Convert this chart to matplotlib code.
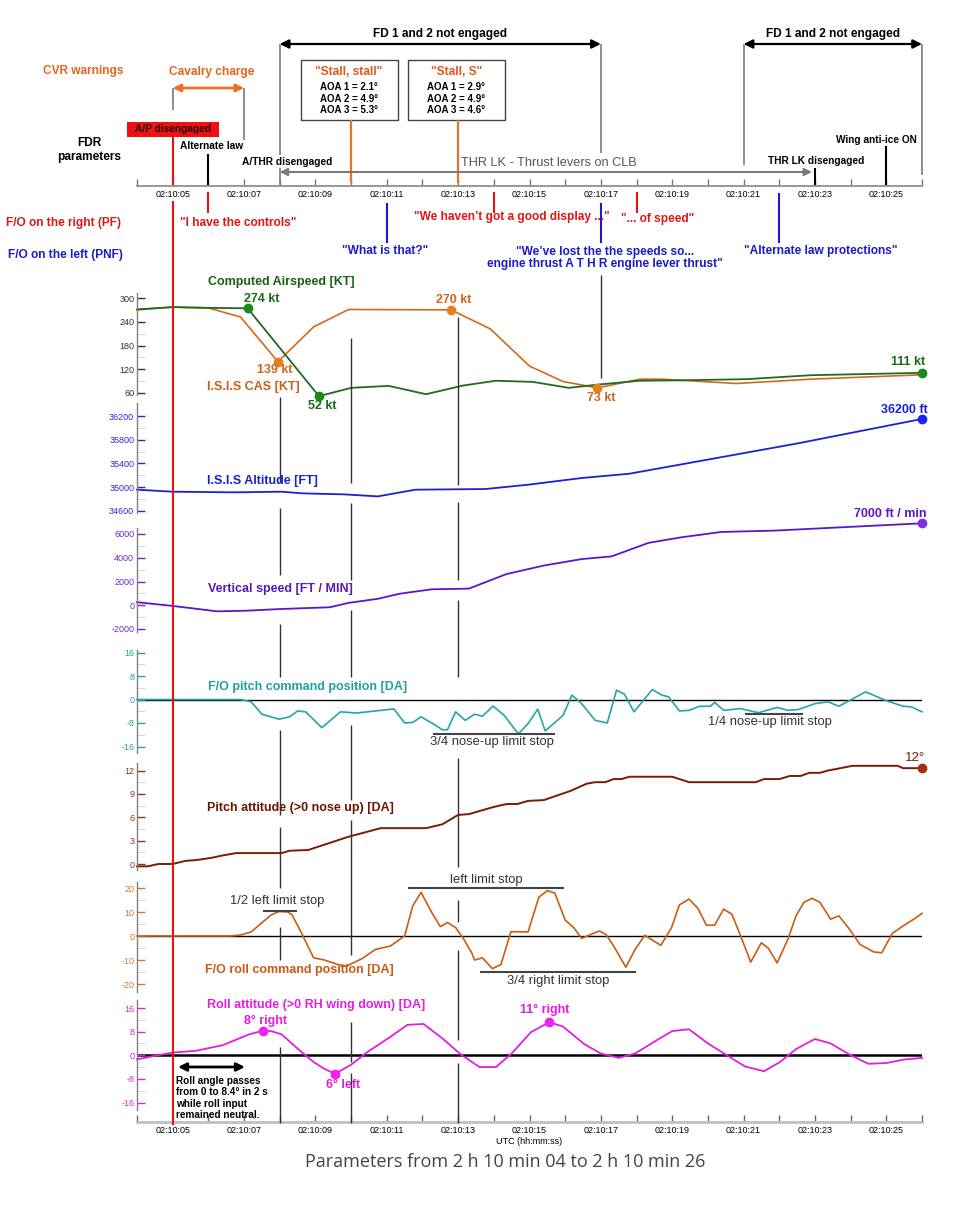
import numpy as np
import matplotlib
matplotlib.use("Agg")
import matplotlib.pyplot as plt
from matplotlib.patches import Rectangle

plt.rcParams['font.family'] = ['Liberation Sans', 'DejaVu Sans']

# ---------------- data ----------------
time_ticks = list(range(4, 27))
time_labels = ['02:10:%02d' % s if s % 2 == 1 else '' for s in time_ticks]

cas_t = np.array([4, 5, 6, 7.1, 9.1, 10, 11.05, 12.1, 13.15, 14.06, 15.1, 16.1, 17, 18.1, 19.2, 21.1, 22.9, 26])
cas_v = np.array([271, 277, 275, 274, 52, 73, 78, 57, 79, 91, 88, 73, 82, 91, 92, 95, 105, 111])
cas_dots = [3, 4, 17]

isis_t = np.array([4, 5, 6, 6.9, 7.95, 8.95, 9.93, 12.8, 13.9, 15, 15.94, 16.9, 18.1, 18.7, 20.8, 22.9, 26])
isis_v = np.array([271, 277, 275, 252, 139, 227, 271, 270, 222, 128, 89, 73, 95, 95, 84, 95, 106])
isis_dots = [4, 7, 11]

alt_t = np.array([4, 5, 6.7, 8.05, 8.65, 9.8, 10.75, 11.8, 13.76, 14.96, 16.46, 17.8, 19.47, 22.47, 26])
alt_v = np.array([34955, 34921, 34910, 34921, 34893, 34876, 34842, 34955, 34966, 35039, 35152, 35225, 35406, 35732, 36150])

vs_t = np.array([4, 5, 6.25, 7.08, 8.05, 9.4, 9.93, 10.75, 11.36, 12.26, 13.3, 14.36, 15.4, 16.46, 17.3, 18.34, 19.24, 20.37, 21.87, 26])
vs_v = np.array([257, -57, -514, -457, -314, -171, 200, 543, 971, 1343, 1400, 2630, 3343, 3886, 4114, 5257, 5714, 6171, 6286, 6900])

pcmd_t = np.array([4, 6.9, 7.2, 7.5, 7.98, 8.28, 8.5, 8.73, 9.18, 9.7, 10.16, 11.2, 11.5, 11.73, 11.96, 12.26,
                   12.56, 12.7, 12.93, 13.2, 13.46, 13.68, 13.98, 14.29, 14.69, 14.96, 15.23, 15.44, 15.94,
                   16.19, 16.46, 16.84, 17.18, 17.44, 17.66, 17.93, 18.44, 18.71, 18.9, 19.2, 19.47, 19.77,
                   20.07, 20.19, 20.44, 20.9, 21.42, 21.94, 22.24, 22.54, 23.0, 23.37, 23.67, 24.42, 25.02,
                   25.47, 25.7, 26])
pcmd_v = np.array([0, 0, -0.8, -5, -6.7, -5.9, -3.9, -4.2, -9.6, -4.2, -4.6, -3.2, -8, -7.8, -5.9, -8,
                   -10.3, -10.3, -4.2, -7.1, -5, -5.7, -2.2, -5.4, -11.7, -8.2, -3.3, -10.7, -5.4,
                   1.5, -1.4, -7.1, -8, 3.2, 1.8, -4.2, 3.4, 1.5, 0.9, -3.9, -3.7, -2.3,
                   -2.3, -1.0, -3.7, -3.1, -4.5, -2.7, -3.7, -3.4, -1.4, -0.8, -2.3, 2.6, -0.5,
                   -2.3, -2.5, -4.2])

patt_t = np.array([4, 4.3, 4.6, 5, 5.35, 5.65, 6.1, 6.4, 6.78, 8.05, 8.28, 8.8, 9.93, 10.83, 12.1, 12.56,
                   13.0, 13.3, 13.98, 14.36, 14.66, 14.96, 15.4, 16.16, 16.6, 16.84, 17.12, 17.36, 17.58,
                   17.8, 19.0, 19.47, 21.34, 21.57, 22.0, 22.3, 22.6, 22.84, 23.14, 23.37, 23.6, 24.05,
                   25.32, 25.47, 26])
patt_v = np.array([-0.3, -0.3, 0, 0, 0.4, 0.5, 0.8, 1.1, 1.4, 1.4, 1.7, 1.8, 3.5, 4.6, 4.6, 5.1,
                   6.3, 6.4, 7.3, 7.7, 7.7, 8.1, 8.2, 9.4, 10.3, 10.5, 10.5, 10.9, 10.9,
                   11.2, 11.2, 10.5, 10.5, 10.9, 10.9, 11.3, 11.3, 11.7, 11.7, 12.0, 12.2, 12.6,
                   12.6, 12.3, 12.3])

rcmd_t = np.array([4, 6.6, 6.9, 7.2, 7.45, 7.75, 7.98, 8.23, 8.35, 8.58, 8.95, 9.25, 9.63, 9.86, 10.3,
                   10.68, 11.1, 11.5, 11.73, 11.96, 12.26, 12.5, 12.7, 12.93, 13.16, 13.38, 13.46, 13.68,
                   13.96, 14.2, 14.48, 14.96, 15.26, 15.5, 15.71, 16.0, 16.24, 16.46, 16.95, 17.14, 17.36,
                   17.7, 17.96, 18.23, 18.68, 18.98, 19.2, 19.47, 19.72, 19.96, 20.19, 20.44, 20.67, 20.9,
                   21.2, 21.5, 21.7, 21.94, 22.24, 22.47, 22.69, 22.92, 23.14, 23.44, 23.67, 23.97, 24.26,
                   24.64, 24.87, 25.17, 25.47, 25.77, 26])
rcmd_v = np.array([0, 0, 0.4, 1.7, 4.9, 8.7, 10.2, 10.0, 8.7, 2.1, -9.1, -10.0, -11.9, -12.6, -9.5,
                   -5.6, -4.2, 0, 12.6, 18.2, 9.8, 3.9, 5.6, 3.5, -1.4, -7.0, -10.0, -9.1,
                   -13.6, -11.9, 1.8, 1.7, 16.1, 18.9, 17.9, 6.6, 3.5, -1.0, 2.1, 0.7, -4.2,
                   -13.0, -5.6, 0.3, -3.9, 3.5, 12.9, 15.4, 11.5, 4.5, 4.5, 11.2, 9.1, 0.7,
                   -10.9, -2.8, -5.2, -11.2, -1.4, 8.4, 14.0, 15.7, 14.0, 7.0, 8.4, 2.8, -3.5,
                   -6.6, -7.0, 1.1, 4.2, 7.0, 9.4])

ratt_t = np.array([4, 4.45, 5, 5.65, 6.4, 7.15, 7.53, 7.75, 8.05, 8.58, 8.95, 9.25, 9.55, 10.0, 10.46,
                   11.06, 11.58, 12.03, 12.56, 13.08, 13.6, 14.06, 14.5, 15.04, 15.56, 15.94, 16.54,
                   17.0, 17.5, 17.96, 18.5, 19.0, 19.47, 20.0, 20.53, 21.04, 21.57, 22.02, 22.47, 23.0,
                   23.44, 23.97, 24.5, 25.02, 25.47, 26])
ratt_v = np.array([-1.4, -0.3, 0.9, 1.5, 3.4, 7.1, 8.3, 8.2, 7.1, 1.4, -2.3, -4.6, -6.3, -3.2, 1.1,
                   5.9, 10.3, 10.6, 5.7, 0.2, -4.0, -4.0, 0.6, 7.8, 11.2, 9.7, 3.7,
                   0.6, -0.9, 0.6, 4.6, 8.2, 8.8, 4.0, 0.0, -3.8, -5.4, -2.3, 2.1, 5.5,
                   4.0, 0.2, -2.9, -2.6, -1.5, -0.9])
ratt_dots = [6, 12, 24]

# events (seconds after 02:10:00)
ap_disc = 5
alt_law = 6
athr_disc = 8
stall_times = [10, 13]
stall_titles = ['"Stall, stall"', '"Stall, S"']
stall_aoa = [['AOA 1 = 2.1\u00b0', 'AOA 2 = 4.9\u00b0', 'AOA 3 = 5.3\u00b0'],
             ['AOA 1 = 2.9\u00b0', 'AOA 2 = 4.9\u00b0', 'AOA 3 = 4.6\u00b0']]
fd_spans = [(8, 17), (21, 26)]
thr_lk_end = 23
anti_ice = 25
cavalry = (5, 7)
pf_times = [6, 14, 18]
pf_texts = ['"I have the controls"', '"We haven\u2019t got a good display ..."', '"... of speed"']
pnf_times = [11, 17, 22]
pnf_texts = ['"What is that?"', '"We\u2019ve lost the the speeds so...\nengine thrust A T H R engine lever thrust"',
             '"Alternate law protections"']

# ---------------- layout ----------------
W, H = 960, 1220
X0, X1 = 137, 922
T0, T1 = 4, 26

def px(x):
    return T0 + (x - X0) * (T1 - T0) / (X1 - X0)

fig = plt.figure(figsize=(W / 100, H / 100), dpi=100)
fig.patch.set_facecolor('white')

def make_panel(ytop, ybot, pa, pb, ticks, tcol, spine_bot=None):
    ax = fig.add_axes([X0 / W, 1 - ybot / H, (X1 - X0) / W, (ybot - ytop) / H])
    ax.set_facecolor('none')
    slope = (pa[1] - pb[1]) / (pb[0] - pa[0])
    v = lambda p: pa[1] + (pa[0] - p) * slope
    ax.set_ylim(v(ybot), v(ytop))
    ax.set_xlim(T0, T1)
    for s in ['top', 'right', 'bottom']:
        ax.spines[s].set_visible(False)
    ax.spines['left'].set_color('#808080')
    ax.spines['left'].set_linewidth(1.0)
    if spine_bot is not None:
        ax.spines['left'].set_bounds(v(spine_bot), v(ytop))
    ax.set_yticks(ticks)
    ax.set_yticklabels([str(t) for t in ticks])
    mids = [(a + b) / 2 for a, b in zip(ticks[:-1], ticks[1:])]
    ax.set_yticks(mids, minor=True)
    ax.tick_params(axis='y', which='major', direction='in', length=6, width=1,
                   color=tcol, labelcolor=tcol, labelsize=6.5, pad=2)
    ax.tick_params(axis='y', which='minor', direction='in', length=6, width=0.6, color='#d0d0d0')
    ax.set_xticks([])
    return ax

ax_cas = make_panel(293, 395, (298, 300), (393, 60), [60, 120, 180, 240, 300], '#333333')
ax_alt = make_panel(403, 513, (416, 36200), (510.7, 34600), [34600, 35000, 35400, 35800, 36200], '#2a2ad0')
ax_vs = make_panel(528, 632, (534, 6000), (629, -2000), [-2000, 0, 2000, 4000, 6000], '#6a2ac8')
ax_pc = make_panel(650, 753, (652.5, 16), (746.5, -16), [-16, -8, 0, 8, 16], '#20a0a0')
ax_pa = make_panel(763, 870, (770.5, 12), (864, 0), [0, 3, 6, 9, 12], '#8a3a20')
ax_rc = make_panel(882, 992, (888, 20), (984, -20), [-20, -10, 0, 10, 20], '#d0782a')
ax_ra = make_panel(1000, 1122, (1008, 16), (1102.5, -16), [-16, -8, 0, 8, 16], '#e020e0', spine_bot=1110)

# bottom time axis on roll attitude panel
ax_ra.spines['bottom'].set_visible(True)
ax_ra.spines['bottom'].set_color('#c0c0c0')
ax_ra.spines['bottom'].set_linewidth(2)
ax_ra.set_xticks(time_ticks)
ax_ra.set_xticklabels(time_labels)
ax_ra.tick_params(axis='x', direction='in', length=5, width=1, color='#666666', labelsize=6.5, pad=3)
ax_ra.set_xlabel('UTC (hh:mm:ss)', fontsize=6.5, labelpad=1)

# top time axis
ax_top = fig.add_axes([X0 / W, 1 - 186 / H, (X1 - X0) / W, 10 / H])
ax_top.set_facecolor('none')
ax_top.set_xlim(T0, T1)
ax_top.set_yticks([])
for s in ['top', 'right', 'left']:
    ax_top.spines[s].set_visible(False)
ax_top.spines['bottom'].set_color('#909090')
ax_top.spines['bottom'].set_linewidth(1.3)
ax_top.set_xticks(time_ticks)
ax_top.set_xticklabels(time_labels)
ax_top.tick_params(axis='x', direction='in', length=5, width=1, color='#777777', labelsize=6.5, pad=3)

# ---------------- data lines ----------------
kw = dict(clip_on=False, solid_joinstyle='round')
ax_cas.plot(isis_t, isis_v, color='#d2691e', lw=1.2, **kw)
ax_cas.plot(cas_t, cas_v, color='#1f6b1f', lw=1.3, **kw)
ax_cas.plot(cas_t[cas_dots], cas_v[cas_dots], 'o', color='#1a8a1a', ms=6, clip_on=False)
ax_cas.plot(isis_t[isis_dots], isis_v[isis_dots], 'o', color='#e8801a', ms=6, clip_on=False)

ax_alt.plot(alt_t, alt_v, color='#1a22d0', lw=1.3, **kw)
ax_alt.plot(alt_t[-1:], alt_v[-1:], 'o', color='#1a22f0', ms=6, clip_on=False)

ax_vs.plot(vs_t, vs_v, color='#5a16c8', lw=1.3, **kw)
ax_vs.plot(vs_t[-1:], vs_v[-1:], 'o', color='#7a30e0', ms=6, clip_on=False)

ax_pc.axhline(0, color='black', lw=1.0, zorder=1)
ax_pc.plot(pcmd_t, pcmd_v, color='#22a6a6', lw=1.2, zorder=2, **kw)

ax_pa.plot(patt_t, patt_v, color='#7a1c00', lw=1.4, **kw)
ax_pa.plot(patt_t[-1:], patt_v[-1:], 'o', color='#a03010', ms=6, clip_on=False)

ax_rc.axhline(0, color='black', lw=1.0, zorder=1)
ax_rc.plot(rcmd_t, rcmd_v, color='#cc5c12', lw=1.2, zorder=2, **kw)

ax_ra.axhline(0, color='black', lw=1.8, zorder=1)
ax_ra.plot(ratt_t, ratt_v, color='#e020e0', lw=1.3, zorder=2, **kw)
ax_ra.plot(ratt_t[ratt_dots], ratt_v[ratt_dots], 'o', color='#f020f0', ms=6, zorder=3, clip_on=False)

# ---------------- overlay (annotations) ----------------
ov = fig.add_axes([0, 0, 1, 1])
ov.set_facecolor('none')
ov.set_xlim(px(0), px(W))
ov.set_ylim(H, 0)
ov.axis('off')

def T(x, y, s, color='black', size=9, weight='bold', ha='center', **k):
    ov.text(px(x), y, s, color=color, fontsize=size, fontweight=weight, ha=ha, va='center', **k)

def darrow(t0, t1, y, color, lw=1.5, ms=12):
    ov.annotate('', xy=(t1, y), xytext=(t0, y),
                arrowprops=dict(arrowstyle='<|-|>', color=color, lw=lw, shrinkA=0, shrinkB=0,
                                mutation_scale=ms))

def vseg(t, segs, color, lw):
    ov.vlines([t] * len(segs), [s[0] for s in segs], [s[1] for s in segs], color=color, lw=lw)

GREY = '#7a7a7a'
RED = '#e01515'
BLUE = '#1a1acc'
ORANGE = '#e8641a'

# FD not engaged
for (a, b) in fd_spans:
    darrow(a, b, 44, 'black', lw=1.6, ms=13)
    ov.text((a + b) / 2, 34, 'FD 1 and 2 not engaged', fontsize=8.6, fontweight='bold',
            ha='center', va='center')
vseg(fd_spans[0][0], [(44, 155), (168, 185)], GREY, 1.2)
vseg(fd_spans[0][1], [(44, 153)], GREY, 1.2)
vseg(fd_spans[1][0], [(44, 165)], GREY, 1.2)
vseg(fd_spans[1][1], [(44, 175)], GREY, 1.2)

# Stall boxes
half = 48.5 * (T1 - T0) / (X1 - X0)
for t, title, aoa in zip(stall_times, stall_titles, stall_aoa):
    tc = t - 2 * (T1 - T0) / (X1 - X0)
    ov.add_patch(Rectangle((tc - half, 60), 2 * half, 60, facecolor='white', edgecolor='#444444', lw=1))
    ov.text(tc, 72, title, color='#e0581a', fontsize=8.6, fontweight='bold', ha='center', va='center')
    for i, s in enumerate(aoa):
        ov.text(tc, 87 + 11.5 * i, s, fontsize=7, fontweight='bold', ha='center', va='center')
    vseg(t, [(120, 183)], '#e8742a', 1.6)

# CVR warnings, cavalry charge
T(83, 71, 'CVR warnings', color=ORANGE, size=8.6)
T(212, 72, 'Cavalry charge', color=ORANGE, size=8.6)
darrow(cavalry[0], cavalry[1], 88, '#f07020', lw=2, ms=11)
vseg(cavalry[0], [(88, 110)], GREY, 1.2)
vseg(cavalry[1], [(88, 140)], GREY, 1.2)

# A/P disengaged
ov.add_patch(Rectangle((px(127), 122), px(219) - px(127), 15, facecolor='#ee1111', edgecolor='none'))
T(173, 129.5, 'A/P disengaged', color='#2a0000', size=7.3)
vseg(ap_disc, [(137, 185), (201, 1125)], RED, 1.5)

# FDR parameters etc.
T(89, 150, 'FDR\nparameters', size=8.6, linespacing=1.15)
T(212, 146, 'Alternate law', size=7.3)
vseg(alt_law, [(154, 185)], 'black', 1.5)
T(287, 162, 'A/THR disengaged', size=7.3)
darrow(athr_disc, px(812), 172, GREY, lw=1.5, ms=11)
T(549, 163, 'THR LK - Thrust levers on CLB', color='#555555', size=9.2, weight='normal')
vseg(thr_lk_end, [(168, 185)], 'black', 1.5)
T(816, 161, 'THR LK disengaged', size=7.3)
T(876, 140, 'Wing anti-ice ON', size=7.3)
vseg(anti_ice, [(146, 185)], 'black', 1.5)

# Crew speech
T(63, 223, 'F/O on the right (PF)', color=RED, size=8.6)
T(65, 255, 'F/O on the left (PNF)', color=BLUE, size=8.6)
pf_pos = [(238, 223), (512, 217), (658, 219)]
for t, s, (x, y) in zip(pf_times, pf_texts, pf_pos):
    vseg(t, [(192, 213)], RED, 1.5)
    T(x, y, s, color=RED, size=8.6)
pnf_pos = [(385, 251), (605, 258), (821, 251)]
pnf_top = [203, 203, 193]
for t, s, (x, y), y0 in zip(pnf_times, pnf_texts, pnf_pos, pnf_top):
    vseg(t, [(y0, 243)], BLUE, 1.5)
    T(x, y, s, color=BLUE, size=8.6, linespacing=1.1)

# vertical event lines through panels
event_segments = {
    8: [(397, 482), (508, 575), (624, 677), (730, 815), (827, 888), (927, 960), (1047, 1123)],
    10: [(338, 483), (503, 580), (610, 677), (725, 800), (820, 955), (1022, 1062), (1073, 1123)],
    13: [(317, 485), (502, 580), (600, 677), (758, 867), (900, 922), (950, 1040), (1063, 1123)],
    17: [(275, 378)],
}
for t, segs in event_segments.items():
    vseg(t, segs, '#333333', 1.0)

# panel labels
T(208, 282, 'Computed Airspeed [KT]', color='#1a5e1a', ha='left')
T(207, 387, 'I.S.I.S CAS [KT]', color='#c8601a', ha='left')
T(207, 481, 'I.S.I.S Altitude [FT]', color='#1a22c8', ha='left')
T(208, 589, 'Vertical speed [FT / MIN]', color='#5a1ab0', ha='left')
T(208, 687, 'F/O pitch command position [DA]', color='#20a0a0', ha='left')
T(207, 808, 'Pitch attitude (>0 nose up) [DA]', color='#6b1500', ha='left')
T(205, 970, 'F/O roll command position [DA]', color='#c85a14', ha='left')
T(207, 1005, 'Roll attitude (>0 RH wing down) [DA]', color='#e020e0', ha='left')

# value labels
T(262, 299, '274 kt', color='#1a6b1a')
T(275, 370, '139 kt', color='#d0661a')
T(322, 406, '52 kt', color='#1a6b1a')
T(454, 300, '270 kt', color='#d0661a')
T(601, 398, '73 kt', color='#d0661a')
T(908, 362, '111 kt', color='#1a6b1a')
T(904, 410, '36200 ft', color='#1a22d0')
T(890, 514, '7000 ft / min', color='#5a16c8')
T(915, 758, '12\u00b0', color='#7a1c00', weight='normal', size=9.5)
T(265, 1021, '8\u00b0 right', color='#e020e0')
T(343, 1085, '6\u00b0 left', color='#e020e0')
T(545, 1010, '11\u00b0 right', color='#e020e0')

# limit stops
LS = '#444444'
def limit(x0, x1, yl, xt, yt, s):
    ov.hlines(yl, px(x0), px(x1), color=LS, lw=1.5)
    T(xt, yt, s, color='#333333', size=9.4, weight='normal')

limit(433, 555, 734, 492, 742, '3/4 nose-up limit stop')
limit(745, 803, 714, 770, 722, '1/4 nose-up limit stop')
limit(263, 297, 911, 277, 901, '1/2 left limit stop')
limit(408, 564, 888, 486, 880, 'left limit stop')
limit(480, 636, 972, 558, 981, '3/4 right limit stop')

# roll note
darrow(px(178), px(245), 1067, 'black', lw=2, ms=12)
ov.text(px(176), 1098, 'Roll angle passes\nfrom 0 to 8.4\u00b0 in 2 s\nwhile roll input\nremained neutral.',
        fontsize=7.2, fontweight='bold', ha='left', va='center', linespacing=1.2)

# bottom title
ov.text(px(505), 1162, 'Parameters from 2 h 10 min 04 to 2 h 10 min 26', fontsize=13,
        family=['Open Sans', 'DejaVu Sans'], color='#444444', ha='center', va='center')

fig.savefig('out.png', dpi=100, facecolor='white')
